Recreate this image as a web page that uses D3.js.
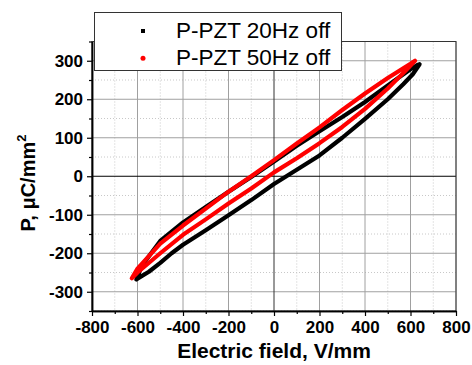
<!DOCTYPE html>
<html>
<head>
<meta charset="utf-8">
<script src="https://cdn.jsdelivr.net/npm/d3@7"></script>
<style>
  body { margin: 0; background: #fff; }
  svg { display: block; font-family: "Liberation Sans", Arial, sans-serif; }
</style>
</head>
<body>
<svg width="472" height="365"></svg>
<script>
const width = 472;
const height = 365;

// axis ticks
var xTicks = [-800, -600, -400, -200, 0, 200, 400, 600, 800];
var xMinor = [-700, -500, -300, -100, 100, 300, 500, 700];
var yTicks = [-300, -200, -100, 0, 100, 200, 300];
var yMinor = [-350, -250, -150, -50, 50, 150, 250, 350];

// legend
var seriesNames = ["P-PZT 20Hz off", "P-PZT 50Hz off"];
var seriesColors = ["#000000", "#ff0000"];

// 20 Hz loop: electric field (V/mm) and polarisation (uC/mm2), lower branch then upper branch
var e20 = [-605, -600, -550, -500, -450, -400, -300, -200, -100, 0, 100, 200, 300, 400, 500, 568, 610, 640,
           630, 600, 500, 400, 300, 200, 100, 0, -100, -200, -300, -400, -500, -580, -605];
var p20 = [-268, -266, -248, -225, -200, -178, -140, -101, -62, -20, 17, 54, 100, 149, 200, 239, 265, 291,
           289, 278, 236, 193, 154, 117, 79, 38, -2, -40, -80, -120, -168, -232, -268];

// 50 Hz loop
var e50 = [-625, -600, -500, -400, -300, -200, -100, 0, 100, 200, 300, 400, 500, 580, 620,
           600, 500, 400, 300, 200, 100, 0, -100, -200, -300, -400, -500, -600, -625];
var p50 = [-265, -250, -200, -152, -112, -71, -32, 10, 47, 86, 128, 175, 228, 275, 300,
           292, 255, 215, 172, 127, 85, 42, 0, -40, -84, -128, -175, -240, -265];

var svg = d3.select("svg");

var x = d3.scaleLinear().domain([-800, 800]).range([92, 456]);
var y = d3.scaleLinear().domain([-350, 350]).range([311, 41.5]);

// minor grid (dotted)
svg.append("g").selectAll("line").data(xMinor).join("line")
    .attr("x1", d => x(d)).attr("x2", d => x(d))
    .attr("y1", y(350)).attr("y2", y(-350))
    .attr("stroke", "#c8c8c8").attr("stroke-dasharray", "1,2");
svg.append("g").selectAll("line").data(yMinor).join("line")
    .attr("x1", x(-800)).attr("x2", x(800))
    .attr("y1", d => y(d)).attr("y2", d => y(d))
    .attr("stroke", "#c8c8c8").attr("stroke-dasharray", "1,2");

// major grid (solid)
svg.append("g").selectAll("line").data(xTicks.filter(d => d != 0)).join("line")
    .attr("x1", d => x(d)).attr("x2", d => x(d))
    .attr("y1", y(350)).attr("y2", y(-350))
    .attr("stroke", "#a0a0a0");
svg.append("g").selectAll("line").data(yTicks.filter(d => d != 0)).join("line")
    .attr("x1", x(-800)).attr("x2", x(800))
    .attr("y1", d => y(d)).attr("y2", d => y(d))
    .attr("stroke", "#a0a0a0");

// zero lines
svg.append("line")
    .attr("x1", x(0)).attr("x2", x(0)).attr("y1", y(350)).attr("y2", y(-350))
    .attr("stroke", "#333");
svg.append("line")
    .attr("x1", x(-800)).attr("x2", x(800)).attr("y1", y(0)).attr("y2", y(0))
    .attr("stroke", "#000");

// frame
svg.append("rect")
    .attr("x", x(-800)).attr("y", y(350))
    .attr("width", x(800) - x(-800)).attr("height", y(-350) - y(350))
    .attr("fill", "none").attr("stroke", "#333");

// data loops
var line = d3.line().x(d => x(d[0])).y(d => y(d[1]));
var loops = [d3.zip(e20, p20), d3.zip(e50, p50)];
svg.append("g").selectAll("path").data(loops).join("path")
    .attr("d", line)
    .attr("fill", "none")
    .attr("stroke", (d, i) => seriesColors[i])
    .attr("stroke-width", 4.2)
    .attr("stroke-linejoin", "round")
    .attr("stroke-linecap", "round");

// axes
var fmt = d => String(d);
var xAxis = svg.append("g").attr("transform", "translate(0," + y(-350) + ")")
    .call(d3.axisBottom(x).tickValues(xTicks).tickFormat(fmt).tickSize(5).tickSizeOuter(0).tickPadding(5));
svg.append("g").attr("transform", "translate(0," + y(-350) + ")")
    .call(d3.axisBottom(x).tickValues(xMinor).tickSize(3).tickSizeOuter(0).tickFormat(""));
var yAxis = svg.append("g").attr("transform", "translate(" + x(-800) + ",0)")
    .call(d3.axisLeft(y).tickValues(yTicks).tickFormat(fmt).tickSize(5).tickSizeOuter(0).tickPadding(4));
svg.append("g").attr("transform", "translate(" + x(-800) + ",0)")
    .call(d3.axisLeft(y).tickValues(yMinor).tickSize(3).tickSizeOuter(0).tickFormat(""));

svg.selectAll(".domain").attr("stroke", "#000").attr("stroke-width", 1.5);
svg.selectAll(".tick line").attr("stroke", "#000").attr("stroke-width", 1.2);
svg.selectAll(".tick text")
    .attr("font-size", 17).attr("font-weight", "bold").attr("fill", "#000")
    .attr("font-family", "Liberation Sans, Arial, sans-serif");

// axis titles
svg.append("text")
    .attr("x", 274).attr("y", 358)
    .attr("text-anchor", "middle")
    .attr("font-size", 21).attr("font-weight", "bold")
    .text("Electric field, V/mm");

var yTitle = svg.append("text")
    .attr("transform", "translate(35,183) rotate(-90)")
    .attr("text-anchor", "middle")
    .attr("font-size", 20).attr("font-weight", "bold");
yTitle.append("tspan").text("P, \u03bcC/mm");
yTitle.append("tspan").attr("dy", -9).attr("font-size", 13).text("2");

// legend
var legend = svg.append("g");
legend.append("rect")
    .attr("x", 94.5).attr("y", 12.5).attr("width", 247).attr("height", 58)
    .attr("fill", "#fff").attr("stroke", "#333");
var items = legend.selectAll("g.item").data(seriesNames).join("g")
    .attr("class", "item")
    .attr("transform", (d, i) => "translate(0," + (i * 27.3) + ")");
items.filter((d, i) => i == 0).append("rect")
    .attr("x", 141).attr("y", 29).attr("width", 4).attr("height", 4)
    .attr("fill", seriesColors[0]);
items.filter((d, i) => i == 1).append("circle")
    .attr("cx", 143).attr("cy", 31).attr("r", 2.5)
    .attr("fill", seriesColors[1]);
items.append("text")
    .attr("x", 176).attr("y", 37.5)
    .attr("font-size", 22.5)
    .text(d => d);
</script>
</body>
</html>
